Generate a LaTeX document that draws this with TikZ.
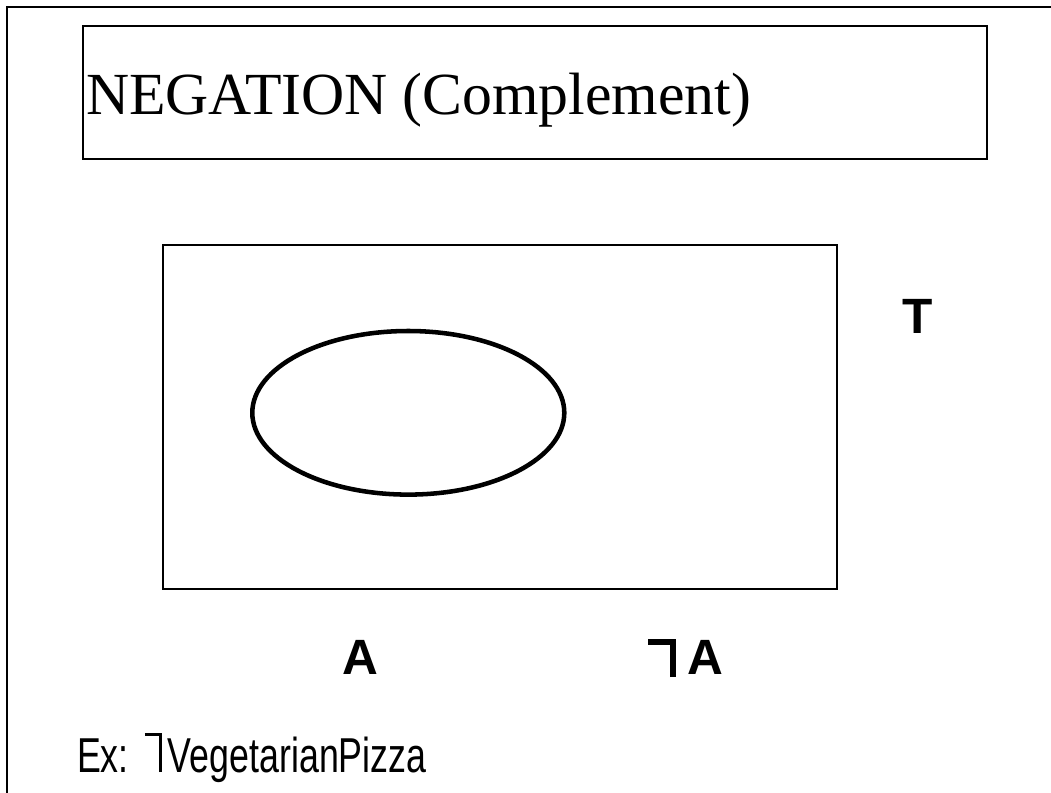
\documentclass[tikz,border=0pt]{standalone}
\usepackage{fontspec}
\usepackage{graphicx}
\setmainfont{Liberation Serif}
\newfontfamily\arialfont{Liberation Sans}
% logical-not sign as drawn in the slide: top bar with a full-height stem on the right
\newcommand{\notsym}[3]{\rule[\dimexpr#2-#3\relax]{#1}{#3}\hspace{-#3}\rule{#3}{#2}}
\tikzset{
  frameline/.style={line width=1.9pt, black},
  titlebox/.style={line width=1.5pt, black},
  universe/.style={line width=1pt, black},
  setA/.style={line width=3.4pt, black},
  txt/.style={inner sep=0pt, outer sep=0pt, anchor=base west, text=black},
  titlefont/.style={font=\fontsize{44.8}{52}\selectfont},
  labelfont/.style={font=\arialfont\bfseries\fontsize{37.2}{42}\selectfont},
  exfont/.style={font=\arialfont\fontsize{36.75}{42}\selectfont},
}
\begin{document}
\begin{tikzpicture}[x=0.75pt, y=-0.75pt]
\useasboundingbox (0,0) rectangle (1051,793);
% outer frame (only top and left edges visible)
\coordinate (fbl) at (7,793);
\coordinate (ftl) at (7,7);
\coordinate (ftr) at (1051,7);
\draw[frameline] (fbl) -- (ftl) -- (ftr);
% title box
\coordinate (tb1) at (83,26);
\coordinate (tb2) at (987,159);
\draw[titlebox] (tb1) rectangle (tb2);
\node[txt, titlefont] (title) at (86,114) {NEGATION (Complement)};
% universe rectangle
\coordinate (u1) at (163,245);
\coordinate (u2) at (837,589);
\draw[universe] (u1) rectangle (u2);
% set A
\coordinate (ac) at (408.3,412.8);
\draw[setA] (ac) ellipse [x radius=156, y radius=81.8];
% labels
\node[txt, labelfont] (T) at (902,333) {T};
\node[txt, labelfont] (A) at (342,674) {A};
\node[txt, labelfont] (notA) at (648,674) {\raisebox{-2.25pt}{\notsym{21pt}{28.5pt}{4.4pt}}\hspace{8.25pt}A};
% example
\node[txt, exfont] (ex) at (77,772) {\scalebox{0.73}[1]{Ex:}\hspace{12.2pt}\notsym{12.75pt}{29.25pt}{2.2pt}\hspace{4.5pt}\scalebox{0.73}[1]{VegetarianPizza}};
\end{tikzpicture}
\end{document}
